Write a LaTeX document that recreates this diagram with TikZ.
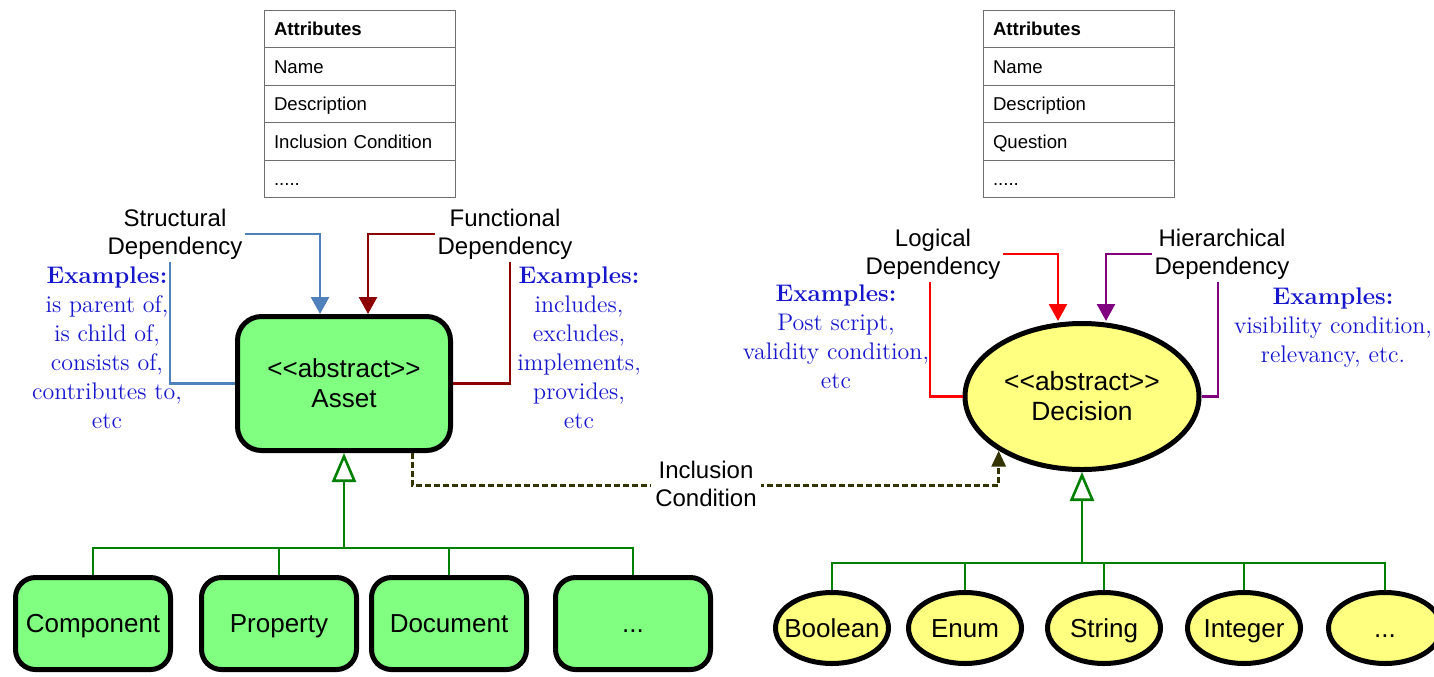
\documentclass[tikz,border=0pt]{standalone}
\usepackage{fontspec}
\setsansfont{Liberation Sans}
\usetikzlibrary{arrows.meta,shapes.geometric}
\definecolor{assetgreen}{RGB}{128,255,128}
\definecolor{decyellow}{RGB}{255,255,128}
\definecolor{genline}{RGB}{0,128,0}
\definecolor{sblue}{RGB}{79,129,189}
\definecolor{fred}{RGB}{140,0,0}
\definecolor{lred}{RGB}{255,0,0}
\definecolor{hpurple}{RGB}{128,0,128}
\definecolor{exblue}{RGB}{22,22,205}
\definecolor{inclc}{RGB}{51,51,0}
\definecolor{attrgray}{RGB}{110,110,110}
\newcommand{\abst}{<\kern0pt<abstract>\kern0pt>}
\begin{document}
\begin{tikzpicture}[x=0.5pt,y=-0.5pt,
  attrrow/.style={draw=attrgray, line width=0.5pt, minimum width=95.5pt, minimum height=18.75pt,
    text width=85.5pt, align=left, inner xsep=5pt, inner ysep=0pt,
    text height=8.2pt, text depth=1pt,
    font=\sffamily\fontsize{9.3}{11}\selectfont},
  assetbox/.style={draw=black, line width=2.5pt, fill=assetgreen, rounded corners=12pt,
    font=\sffamily\fontsize{13}{15}\selectfont, align=center, inner sep=0pt},
  childbox/.style={draw=black, line width=2.5pt, fill=assetgreen, rounded corners=10pt,
    font=\sffamily\fontsize{13}{15}\selectfont, inner sep=0pt,
    text height=10.5pt, text depth=1.5pt,
    minimum width=77.5pt, minimum height=46pt},
  decell/.style={ellipse, draw=black, line width=2.5pt, fill=decyellow,
    font=\sffamily\fontsize{13.2}{15}\selectfont, align=center, inner sep=0pt},
  childell/.style={ellipse, draw=black, line width=2.5pt, fill=decyellow,
    font=\sffamily\fontsize{13}{15}\selectfont, inner sep=0pt,
    text height=10.5pt, text depth=1.5pt,
    minimum width=56.5pt, minimum height=35.5pt},
  deplabel/.style={font=\sffamily\fontsize{12}{14}\selectfont, align=center, inner sep=1pt},
  exstyle/.style={text=exblue, font=\rmfamily\fontsize{12}{14.5}\selectfont, align=center, inner sep=0pt},
  depline/.style={line width=1.4pt},
  dep/.style={line width=1.4pt, -{Triangle[length=8.5pt,width=9pt]}},
  gen/.style={draw=genline, line width=1.3pt},
  genarrow/.style={-{Triangle[open, length=14.5pt, width=12pt]}},
  incl/.style={draw=inclc, line width=1.5pt, dash pattern=on 3pt off 1.5pt,
    -{Triangle[length=8pt,width=7pt]}},
  incllabel/.style={font=\sffamily\fontsize{12}{14}\selectfont, align=center, fill=white, inner sep=2pt}
]
\useasboundingbox (0,0) rectangle (1434,676);

% attribute tables
\node[attrrow] (la1) at (359.5,28.75) {\bfseries Attributes};
\node[attrrow] (la2) at (359.5,66.25) {Name};
\node[attrrow] (la3) at (359.5,103.75) {Description};
\node[attrrow] (la4) at (359.5,141.25) {Inclusion Condition};
\node[attrrow] (la5) at (359.5,178.75) {.....};
\node[attrrow] (ra1) at (1078.5,28.75) {\bfseries Attributes};
\node[attrrow] (ra2) at (1078.5,66.25) {Name};
\node[attrrow] (ra3) at (1078.5,103.75) {Description};
\node[attrrow] (ra4) at (1078.5,141.25) {Question};
\node[attrrow] (ra5) at (1078.5,178.75) {.....};

% main nodes
\node[assetbox, minimum width=106.5pt, minimum height=67pt] (asset) at (344,383.5) {\abst\\Asset};
\node[decell, minimum width=117pt, minimum height=73pt] (dec) at (1082,396.5) {\abst\\Decision};

% children
\node[childbox] (comp) at (93,623.5) {Component};
\node[childbox] (prop) at (279,623.5) {Property};
\node[childbox] (doc) at (449,623.5) {Document};
\node[childbox] (adots) at (633,623.5) {...};

\node[childell] (bool) at (832,628) {\makebox[0pt]{Boolean}};
\node[childell] (enum) at (965,628) {\makebox[0pt]{Enum}};
\node[childell] (str) at (1104,628) {\makebox[0pt]{String}};
\node[childell] (int) at (1244,628) {\makebox[0pt]{Integer}};
\node[childell] (ddots) at (1385,628) {\makebox[0pt]{...}};

% dependency labels
\node[deplabel] (sdep) at (175,234) {Structural\\Dependency};
\node[deplabel] (fdep) at (505,234) {Functional\\Dependency};
\node[deplabel] (ldep) at (933,254) {Logical\\Dependency};
\node[deplabel] (hdep) at (1222,254) {Hierarchical\\Dependency};

% dependency connectors
\draw[dep, sblue] (sdep.east) -| ([xshift=-12pt]asset.north);
\draw[depline, sblue] ([xshift=-2.5pt]sdep.south) |- (asset.west);
\draw[dep, fred] (fdep.west) -| ([xshift=12pt]asset.north);
\draw[depline, fred] ([xshift=2.5pt]fdep.south) |- (asset.east);
\draw[dep, lred] (ldep.east) -| ([xshift=-12pt]dec.north);
\draw[depline, lred] ([xshift=-1.5pt]ldep.south) |- (dec.west);
\draw[dep, hpurple] (hdep.west) -| ([xshift=12pt]dec.north);
\draw[depline, hpurple] ([xshift=-2pt]hdep.south) |- (dec.east);

% examples
\node[exstyle] (ex1) at (107,347.5) {\textbf{Examples:}\\is parent of,\\is child of,\\consists of,\\contributes to,\\etc};
\node[exstyle] (ex2) at (579,347.5) {\textbf{Examples:}\\includes,\\excludes,\\implements,\\provides,\\etc};
\node[exstyle] (ex3) at (836,336.5) {\textbf{Examples:}\\Post script,\\validity condition,\\etc};
\node[exstyle] (ex4) at (1333,328) {\textbf{Examples:}\\visibility condition,\\relevancy, etc.};

% generalization: asset
\coordinate (aj) at (344,548);
\draw[gen, genarrow] (aj) -- (asset.south);
\draw[gen] (comp.north) |- (aj) -| (adots.north);
\draw[gen] (prop.north) -- (prop.north |- aj);
\draw[gen] (doc.north) -- (doc.north |- aj);

% generalization: decision
\coordinate (dj) at (1082,563);
\draw[gen, genarrow] (dj) -- (dec.south);
\draw[gen] (bool.north) |- (dj) -| (ddots.north);
\draw[gen] (enum.north) -- (enum.north |- dj);
\draw[gen] (str.north) -- (str.north |- dj);
\draw[gen] (int.north) -- (int.north |- dj);

% inclusion condition
\coordinate (icy) at (0,485);
\draw[incl] ([xshift=34pt]asset.south) |- (icy -| dec.213) -- (dec.213);
\node[incllabel] (icl) at (706,484) {Inclusion\\Condition};
\end{tikzpicture}
\end{document}
